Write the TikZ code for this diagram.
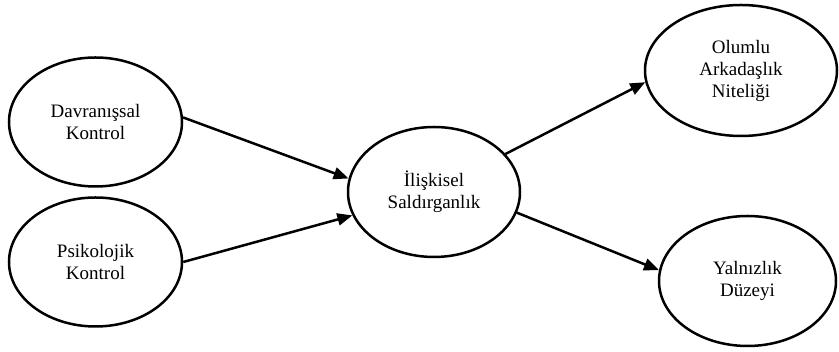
\documentclass[tikz,border=0pt]{standalone}
\usepackage{fontspec}
\setmainfont{Liberation Serif}
\usetikzlibrary{shapes.geometric,arrows.meta}

\begin{document}
\begin{tikzpicture}[x=1pt,y=1pt,
    degisken/.style={ellipse,draw,line width=2.5pt,align=center,inner sep=0pt,
      font=\fontsize{19}{22}\selectfont},
    yol/.style={line width=2.5pt,-{Triangle[length=15pt,width=12pt]}}]
    \useasboundingbox (0,0) rectangle (839,352);
    \node[degisken,minimum width=173pt,minimum height=129pt] (dk) at (95.5,230) {Davranışsal\\Kontrol};
    \node[degisken,minimum width=173pt,minimum height=129pt] (pk) at (95.5,90) {Psikolojik\\Kontrol};
    \node[degisken,minimum width=172pt,minimum height=130pt] (is) at (434,160) {İlişkisel\\Saldırganlık};
    \node[degisken,minimum width=192pt,minimum height=131pt] (oan) at (741,281.5) {Olumlu\\Arkadaşlık\\Niteliği};
    \node[degisken,minimum width=177pt,minimum height=130pt] (yd) at (747.5,71) {Yalnızlık\\Düzeyi};
    \draw[yol] (dk.3) -- (is.171);
    \draw[yol] (pk.east) -- (is.196);
    \draw[yol] (is.28) -- (oan.187);
    \draw[yol] (is.346) -- (yd.173);
  \end{tikzpicture}
\end{document}
